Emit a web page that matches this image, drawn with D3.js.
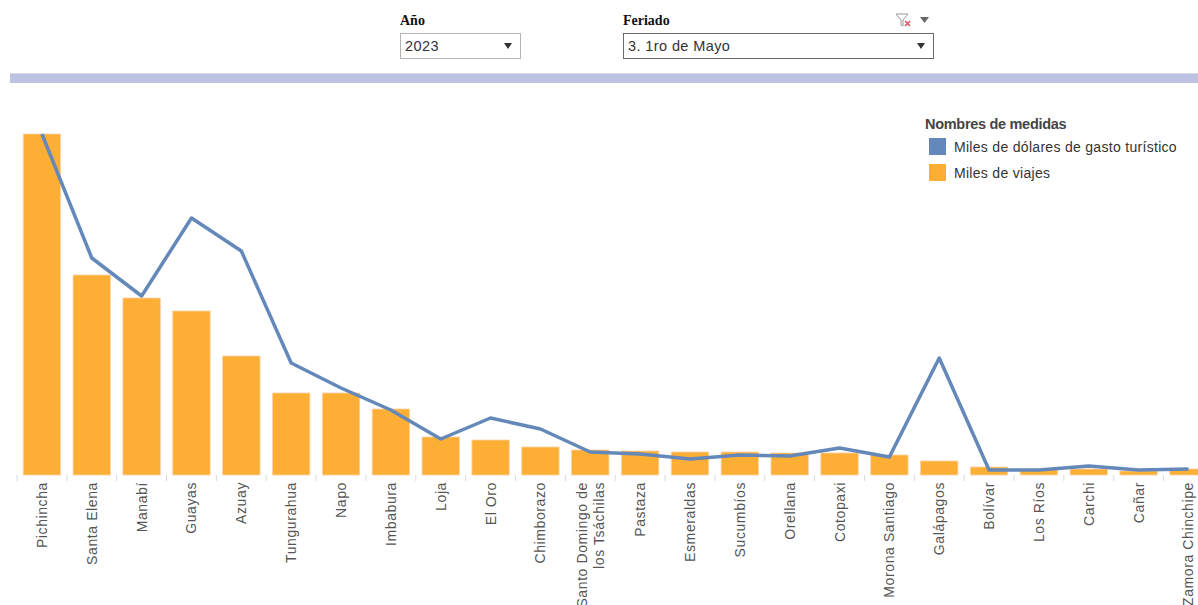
<!DOCTYPE html>
<html lang="es">
<head>
<meta charset="utf-8">
<title>Gasto turístico por provincia</title>
<script src="https://d3js.org/d3.v7.min.js"></script>
<style>
  body { margin: 0; background: #fff; font-family: "Liberation Sans", Arial, sans-serif; }
  svg { display: block; }
</style>
</head>
<body>
<div id="chart"></div>
<script>
// provinces, ordered as in the view
var provincias = ["Pichincha", "Santa Elena", "Manabí", "Guayas", "Azuay", "Tungurahua", "Napo",
  "Imbabura", "Loja", "El Oro", "Chimborazo", "Santo Domingo de los Tsáchilas", "Pastaza",
  "Esmeraldas", "Sucumbíos", "Orellana", "Cotopaxi", "Morona Santiago", "Galápagos", "Bolívar",
  "Los Ríos", "Carchi", "Cañar", "Zamora Chinchipe"];

// miles de viajes (bars)
var viajes = [170.5, 100, 88.5, 82, 59.5, 41, 41, 33, 19, 17.5, 14, 12.5, 12, 11.5, 11.5,
  11, 11, 10, 7, 4, 3, 3, 2, 3];

// miles de dólares de gasto turístico (line)
var gasto = [6820, 4340, 3580, 5140, 4480, 2240, 1740, 1300, 720, 1140, 920, 460, 420, 320,
  400, 380, 540, 360, 2340, 100, 100, 180, 100, 120];

var legendItems = ["Miles de dólares de gasto turístico", "Miles de viajes"];
var colBlue = "#6388b9", colOrange = "#fdae35";

var W = 1198, H = 605;
var svg = d3.select("#chart").append("svg").attr("width", W).attr("height", H);

// ---- filter controls at top ----
function filtro(x, label, value, w, border) {
  svg.append("text").attr("x", x).attr("y", 25)
    .attr("font-family", "'Liberation Serif', 'Times New Roman', serif")
    .attr("font-weight", "bold").attr("font-size", 14).attr("fill", "#111").text(label);
  svg.append("rect").attr("x", x + 0.5).attr("y", 33.5).attr("width", w).attr("height", 25)
    .attr("fill", "#fff").attr("stroke", border);
  svg.append("text").attr("x", x + 5).attr("y", 51).attr("font-size", 14.5)
    .attr("letter-spacing", 0.4).attr("fill", "#333").text(value);
  var ax = x + w - 12;
  svg.append("path").attr("d", "M" + (ax - 4) + ",43 L" + (ax + 4) + ",43 L" + ax + ",49 Z")
    .attr("fill", "#333");
}
filtro(400, "Año", "2023", 120, "#b5b5b5");
filtro(623, "Feriado", "3. 1ro de Mayo", 310, "#6a6a6a");

// clear-filter icon + menu arrow
svg.append("path").attr("d", "M896,14 L908,14 L903,20 L903,26 L901,25 L901,20 Z")
  .attr("fill", "none").attr("stroke", "#999").attr("stroke-width", 1);
svg.append("path").attr("d", "M905,21 L910,26 M910,21 L905,26")
  .attr("stroke", "#e0525a").attr("stroke-width", 1.5);
svg.append("path").attr("d", "M920,17 L929,17 L924.5,23 Z").attr("fill", "#666");

// separator band
svg.append("rect").attr("x", 10).attr("y", 73).attr("width", W - 10).attr("height", 10)
  .attr("fill", "#bfc3e3");
svg.append("rect").attr("x", 10).attr("y", 73).attr("width", W - 10).attr("height", 1)
  .attr("fill", "#d7d9ea");

// ---- chart ----
var baseY = 475, topY = 134;
var x = d3.scaleBand().domain(provincias).range([17, 17 + 24 * 49.85]).paddingInner(0.25).paddingOuter(0.125);
var yBar = d3.scaleLinear().domain([0, d3.max(viajes)]).range([baseY, topY]);
var yLine = d3.scaleLinear().domain([0, d3.max(gasto)]).range([baseY, topY]);

var g = svg.append("g");

g.selectAll("rect.bar").data(provincias).enter().append("rect")
  .attr("class", "bar")
  .attr("x", function(d) { return x(d); })
  .attr("width", x.bandwidth())
  .attr("y", function(d, i) { return yBar(viajes[i]); })
  .attr("height", function(d, i) { return baseY - yBar(viajes[i]); })
  .attr("fill", colOrange)
  .attr("stroke", "#fdd3a8").attr("stroke-width", 0.8);

var line = d3.line()
  .x(function(d, i) { return x(provincias[i]) + x.bandwidth() / 2; })
  .y(function(d) { return yLine(d); });

g.append("path").datum(gasto)
  .attr("d", line)
  .attr("fill", "none")
  .attr("stroke", colBlue)
  .attr("stroke-width", 3.5)
  .attr("stroke-linejoin", "round");

// x axis: ticks at band boundaries, rotated labels
var axis = svg.append("g").attr("transform", "translate(0," + baseY + ")");
var step = x.step();
axis.selectAll("line.sep").data(d3.range(25)).enter().append("line")
  .attr("x1", function(i) { return 17 + i * step; })
  .attr("x2", function(i) { return 17 + i * step; })
  .attr("y1", 0).attr("y2", 6)
  .attr("stroke", "#d9d9d9");

var lab = axis.selectAll("text.lab").data(provincias).enter().append("text")
  .attr("class", "lab")
  .attr("transform", function(d) {
    return "translate(" + (x(d) + x.bandwidth() / 2 + 5) + ",7) rotate(-90)";
  })
  .attr("text-anchor", "end")
  .attr("font-size", 14)
  .attr("letter-spacing", 0.6)
  .attr("fill", "#555");

lab.each(function(d) {
  var t = d3.select(this);
  if (d === "Santo Domingo de los Tsáchilas") {
    t.append("tspan").attr("x", 0).attr("dy", "-0.6em").text("Santo Domingo de");
    t.append("tspan").attr("x", 0).attr("dy", "1.2em").text("los Tsáchilas");
  } else {
    t.text(d);
  }
});

// ---- legend ----
var leg = svg.append("g").attr("transform", "translate(925,0)");
leg.append("text").attr("x", 0).attr("y", 129).attr("font-weight", "bold")
  .attr("font-size", 14.5).attr("letter-spacing", -0.3).attr("fill", "#444").text("Nombres de medidas");
leg.selectAll("rect").data(legendItems).enter().append("rect")
  .attr("x", 4).attr("y", function(d, i) { return 138 + i * 26; })
  .attr("width", 17).attr("height", 17)
  .attr("fill", function(d, i) { return i === 0 ? colBlue : colOrange; });
leg.selectAll("text.li").data(legendItems).enter().append("text")
  .attr("class", "li")
  .attr("x", 29).attr("y", function(d, i) { return 152 + i * 26; })
  .attr("font-size", 14).attr("letter-spacing", 0.3)
  .attr("fill", "#333").text(function(d) { return d; });
</script>
</body>
</html>
